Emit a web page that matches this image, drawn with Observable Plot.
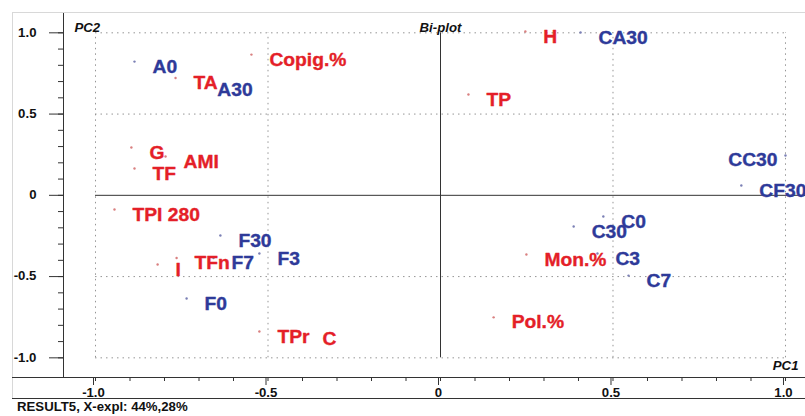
<!DOCTYPE html>
<html><head><meta charset="utf-8">
<script src="https://cdn.jsdelivr.net/npm/d3@7"></script>
<script src="https://cdn.jsdelivr.net/npm/@observablehq/plot@0.6"></script>
<style>
body{margin:0;background:#fff;}
#cap{height:16px;line-height:16px;font:bold 12px "Liberation Sans",Arial,sans-serif;padding-left:17px;color:#111;white-space:nowrap;}
#cap span{display:inline-block;transform:scaleX(1.1);transform-origin:left center;}
</style></head><body>
<div id="chart"></div>
<div id="cap"><span>RESULT5, X-expl: 44%,28%</span></div>
<script>
// Samples (blue)
const sampleNames = ["A0","A30","CA30","CC30","CF30","C0","C30","C3","C7","F30","F3","F7","F0"];
const samplePC1   = [-0.887,-0.699,0.406,1.0,0.872,0.472,0.386,0.455,0.545,-0.638,-0.525,-0.658,-0.736];
const samplePC2   = [0.823,0.679,1.002,0.245,0.060,-0.130,-0.192,-0.358,-0.494,-0.247,-0.358,-0.386,-0.635];
// Variables (red)
const varNames = ["Copig.%","TA","G","TF","AMI","TPI 280","I","TFn","TPr","C","H","TP","Mon.%","Pol.%"];
const varPC1   = [-0.548,-0.768,-0.896,-0.887,-0.797,-0.945,-0.820,-0.765,-0.525,-0.394,0.246,0.081,0.249,0.154];
const varPC2   = [0.866,0.722,0.294,0.165,0.239,-0.087,-0.426,-0.386,-0.838,-0.854,1.008,0.620,-0.364,-0.751];
// labels drawn to the left of their point
const leftLabeled = ["CC30"];
// axis ticks
const majorTicks = [-1,-0.5,0,0.5,1];
const minorTicks = [-10,-9,-8,-7,-6,-5,-4,-3,-2,-1,0,1,2,3,4,5,6,7,8,9,10].map(d=>d/10);
const gridTicks = [-1,-0.5,0.5,1];

const RED="#e41f28", BLUE="#2e3a99";
const W=805, H=400;
const xDomain=[-1.0928,1.058], yDomain=[-1.121,1.125];

const samples = sampleNames.map((n,i)=>({name:n,pc1:samplePC1[i],pc2:samplePC2[i],kind:"s"}));
const vars = varNames.map((n,i)=>({name:n,pc1:varPC1[i],pc2:varPC2[i],kind:"v"}));
const all = samples.concat(vars);
const rightLab = all.filter(d=>!leftLabeled.includes(d.name));
const leftLab = all.filter(d=>leftLabeled.includes(d.name));
const fmt = v => v===0 ? "0" : v.toFixed(1);
const colorOf = d => d.kind==="s" ? BLUE : RED;

const chart = Plot.plot({
  width:W, height:H, marginLeft:63, marginRight:0, marginTop:12, marginBottom:23,
  x:{domain:xDomain}, y:{domain:yDomain},
  style:{fontFamily:'"Liberation Sans", Arial, sans-serif', fontWeight:"bold", fontSize:"12px", background:"white", color:"#111", overflow:"visible"},
  marks:[
    Plot.ruleX(gridTicks,{y1:-1,y2:1,stroke:"#959595",strokeDasharray:"1.5,4"}),
    Plot.ruleY(gridTicks,{x1:-1,x2:1,stroke:"#959595",strokeDasharray:"1.5,4"}),
    Plot.ruleX([0],{y1:-1,y2:1,stroke:"#333",strokeWidth:1}),
    Plot.ruleY([0],{x1:-1,x2:xDomain[1],stroke:"#333",strokeWidth:1}),
    Plot.ruleX([xDomain[0]],{stroke:"#333",strokeWidth:1}),
    Plot.axisY(majorTicks,{anchor:"left",tickSize:14,tickPadding:13,tickFormat:fmt,label:null,stroke:"#333",fill:"#111",fontSize:12}),
    Plot.axisY(minorTicks,{anchor:"left",tickSize:5,tickFormat:()=>"",label:null,stroke:"#333"}),
    Plot.axisX(majorTicks,{anchor:"bottom",tickSize:8,tickPadding:3,tickFormat:fmt,label:null,stroke:"#333",fill:"#111",fontSize:12,dx:-2}),
    Plot.axisX(minorTicks,{anchor:"bottom",tickSize:4,tickFormat:()=>"",label:null,stroke:"#333"}),
    Plot.dot(all,{x:"pc1",y:"pc2",r:1.2,fill:d=>d.kind==="s"?"#7b80b5":"#d98080",stroke:null}),
    Plot.text(rightLab,{x:"pc1",y:"pc2",text:"name",fill:colorOf,stroke:colorOf,strokeWidth:0.35,textAnchor:"start",dx:18,dy:5.5,fontSize:17.5,fontWeight:"bold"}),
    Plot.text(leftLab,{x:"pc1",y:"pc2",text:"name",fill:colorOf,stroke:colorOf,strokeWidth:0.35,textAnchor:"end",dx:-8,dy:5,fontSize:17.5,fontWeight:"bold"}),
    Plot.text([{t:"Bi-plot",x:0}],{x:"x",text:"t",frameAnchor:"top",dy:11,fontStyle:"italic",fontWeight:"bold",fontSize:12,fill:"#111"}),
    Plot.text(["PC2"],{frameAnchor:"top-left",dx:11,dy:11,textAnchor:"start",fontStyle:"italic",fontWeight:"bold",fontSize:12,fill:"#111"}),
    Plot.text(["PC1"],{frameAnchor:"bottom-right",dx:-7,dy:-8,textAnchor:"end",fontStyle:"italic",fontWeight:"bold",fontSize:12,fill:"#111"})
  ]
});
document.getElementById("chart").appendChild(chart);

// frame decoration (outer panel border)
const svg = d3.select(chart);
const deco = svg.append("g");
deco.append("line").attr("x1",12).attr("x2",W).attr("y1",12.5).attr("y2",12.5).attr("stroke","#d8d8d8");
deco.append("line").attr("x1",12.5).attr("x2",12.5).attr("y1",12).attr("y2",399).attr("stroke","#d8d8d8");
deco.append("line").attr("x1",12).attr("x2",W).attr("y1",377.5).attr("y2",377.5).attr("stroke","#333");
deco.append("line").attr("x1",12).attr("x2",W).attr("y1",398.5).attr("y2",398.5).attr("stroke","#333");

// widen glyphs horizontally to match the reference's proportions
const S = 1.1;
svg.selectAll("text").each(function(){
  const el=this; if(!el.textContent) return;
  const b=el.getBBox(); if(!b.width) return;
  const anc=getComputedStyle(el).textAnchor;
  const ax = anc==="end" ? b.x+b.width : anc==="middle" ? b.x+b.width/2 : b.x;
  const t = el.getAttribute("transform")||"";
  el.setAttribute("transform", t+` translate(${ax},0) scale(${S},1) translate(${-ax},0)`);
});
</script>
</body></html>
